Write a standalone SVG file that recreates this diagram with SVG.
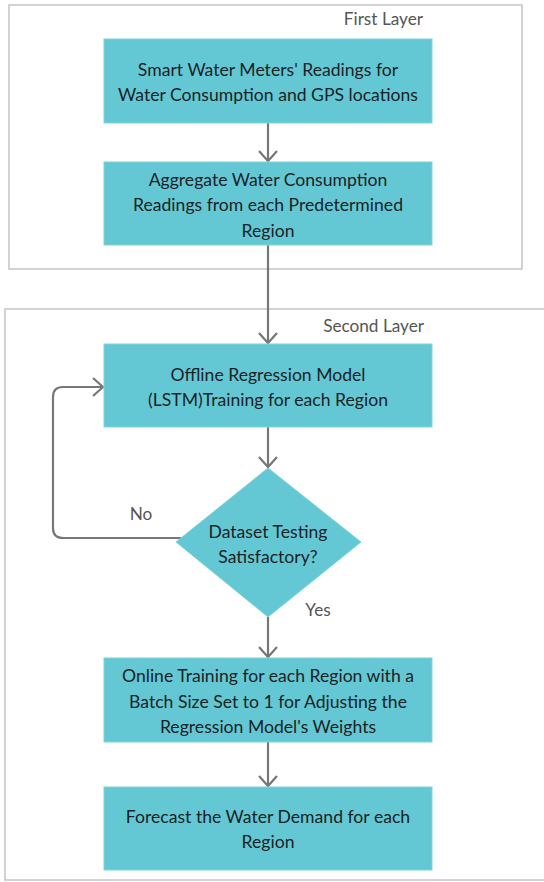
<svg xmlns="http://www.w3.org/2000/svg" width="544" height="882" viewBox="0 0 544 882">
<defs>
<marker id="arr" markerWidth="14" markerHeight="22" refX="11" refY="10" orient="auto" markerUnits="userSpaceOnUse">
<path d="M1,1 L11,10 L1,19" fill="none" stroke="#777" stroke-width="2.2"/>
</marker>
<style>
.layer{fill:none;stroke:#c4c4c4;stroke-width:1.5}
.box{fill:#64c8d4;stroke:#7fd3dc;stroke-width:1}
.t{font-family:Lato,"Liberation Sans",sans-serif;font-size:17.6px;fill:#1a2326;text-anchor:middle}
.lbl{font-family:Lato,"Liberation Sans",sans-serif;font-size:17.2px;fill:#555;text-anchor:end}
.c{fill:none;stroke:#777;stroke-width:2.2;marker-end:url(#arr)}
</style>
</defs>
<rect width="544" height="882" fill="#fff"/>
<g id="first-layer">
<rect class="layer" x="9" y="5" width="513" height="264"/>
<text class="lbl" x="423" y="25">First Layer</text>
</g>
<g id="second-layer">
<rect class="layer" x="5" y="309" width="545" height="571"/>
<text class="lbl" x="424" y="332">Second Layer</text>
</g>
<g id="connectors">
<path class="c" d="M268,123 V161"/>
<path class="c" d="M268,245 V343"/>
<path class="c" d="M268,427 V467"/>
<path class="c" d="M182,538 H63 Q53,538 53,528 V397 Q53,387 63,387 H103"/>
<path class="c" d="M268,617 V657"/>
<path class="c" d="M268,742 V786"/>
<text class="lbl" x="141" y="520" style="text-anchor:middle">No</text>
<text class="lbl" x="318" y="616" style="text-anchor:middle">Yes</text>
</g>
<g id="n1">
<rect class="box" x="104" y="39" width="328" height="84"/>
<text class="t" x="268" y="76">Smart Water Meters' Readings for</text>
<text class="t" x="268" y="101">Water Consumption and GPS locations</text>
</g>
<g id="n2">
<rect class="box" x="104" y="162" width="328" height="83"/>
<text class="t" x="268" y="186">Aggregate Water Consumption</text>
<text class="t" x="268" y="211">Readings from each Predetermined</text>
<text class="t" x="268" y="237">Region</text>
</g>
<g id="n3">
<rect class="box" x="104" y="344" width="328" height="83"/>
<text class="t" x="268" y="381">Offline Regression Model</text>
<text class="t" x="268" y="406">(LSTM)Training for each Region</text>
</g>
<g id="n4">
<polygon class="box" points="268,468 361,542 268,617 176,542"/>
<text class="t" x="268" y="538">Dataset Testing</text>
<text class="t" x="268" y="563">Satisfactory?</text>
</g>
<g id="n5">
<rect class="box" x="104" y="658" width="328" height="84"/>
<text class="t" x="268" y="682">Online Training for each Region with a</text>
<text class="t" x="268" y="708">Batch Size Set to 1 for Adjusting the</text>
<text class="t" x="268" y="733">Regression Model's Weights</text>
</g>
<g id="n6">
<rect class="box" x="104" y="787" width="328" height="83"/>
<text class="t" x="268" y="823">Forecast the Water Demand for each</text>
<text class="t" x="268" y="848">Region</text>
</g>
</svg>
